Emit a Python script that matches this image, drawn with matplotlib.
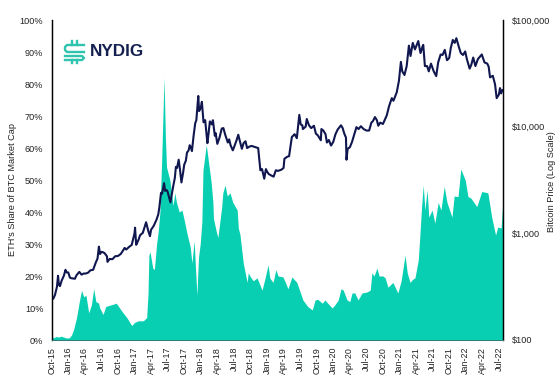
import matplotlib
matplotlib.use('Agg')
import matplotlib.pyplot as plt
from matplotlib.lines import Line2D
from matplotlib.ticker import FixedLocator, NullLocator

plt.rcParams['font.family'] = ['Liberation Sans', 'DejaVu Sans']

# months counted from Oct-15
eth_months = [0, 0.4, 0.8, 1.3, 1.7, 2.2, 2.7, 3.2, 3.6, 4, 4.5, 5, 5.4, 5.8, 6.2, 6.7, 7.2, 7.6, 8, 8.5, 8.7, 9.3, 9.8,
              10.8, 11.7, 12.7, 13.6, 14.5, 15, 15.7, 16.6, 17.2, 17.45, 17.6, 17.8, 18.3, 18.6, 19, 19.3, 19.6, 19.9,
              20.35, 20.6, 20.8, 21.4, 22, 22.3, 22.6, 23.1, 23.6, 24, 24.5, 25.1, 25.4, 25.8, 26, 26.3, 26.6, 26.9,
              27.2, 27.4, 28, 28.3, 28.9, 29.2, 29.3, 29.8, 30.1, 30.5, 30.8, 31, 31.4, 31.8, 32.3, 32.8, 33.6, 33.8,
              34.1, 34.7, 35.4, 35.6, 35.9, 36.5, 37.2, 38.1, 38.6, 39.2, 39.5, 40.1, 40.6, 41, 41.9, 42.8, 43.5, 44.4,
              45, 45.5, 46.4, 47.2, 47.7, 48.2, 49, 49.5, 50, 50.8, 51.3, 51.9, 52.4, 52.8, 53.5, 54, 54.4, 54.9, 55.5,
              56.2, 57.1, 57.7, 58, 58.4, 58.9, 59.3, 60, 60.4, 60.9, 61.8, 62.7, 63.3, 64, 64.4, 64.9, 65.4, 65.8,
              66.4, 66.7, 67, 67.3, 67.6, 68, 68.3, 68.9, 69.4, 70, 70.5, 71.1, 71.6, 72.5, 72.9, 73.6, 74.1, 74.9,
              75.4, 75.9, 77, 77.9, 79, 79.7, 80.4, 80.8, 81.4, 81.65]
eth_share = [0.8, 0.7, 1.1, 0.9, 1.2, 0.9, 0.6, 0.7, 1.6, 3.5, 7, 12, 15.5, 13.5, 14, 8.5, 11, 16, 12, 11.5, 10, 8, 10.5,
             11, 11.5, 9, 7, 4.5, 5.5, 6, 6, 7, 14.6, 26.5, 27.6, 22.5, 22, 30, 34, 40, 55,
             82, 63, 54, 50, 42, 46, 43, 40, 40.6, 37.5, 33.3, 29, 24, 31, 24, 14, 26, 30,
             37, 53, 61, 57, 49, 43, 38, 34, 32, 37.5, 41.7, 46, 48.4, 45, 46, 43, 40.6, 35,
             33, 24, 18, 21, 20, 18.5, 19.4, 15.6, 19, 23.5, 19.4, 18, 22, 20, 19.7, 16, 19.7, 18,
             15, 12.5, 10.4, 9.4, 12.5, 12.7, 11.5, 12.5, 11.5, 10, 11, 12.5, 16, 15.6, 12.5, 12, 14.7, 14.7, 12.5,
             14.7, 15, 15.6, 21, 20, 22.5, 20, 20, 19.4, 16.5, 18, 14.7, 18.5, 26.5, 21, 18, 19, 19.4,
             25, 33, 41.7, 48.4, 40.6, 47, 38.4, 40.6, 36.5, 43, 40.6, 48, 43, 38.4, 45, 44.8, 53.4, 50,
             44.8, 44.4, 41.7, 46.4, 46, 38.4, 32.8, 35.3, 35, 41.7]

btc_months = [0, 0.3, 0.6, 0.95, 1.15, 1.3, 1.5, 1.8, 2.2, 2.5, 2.7, 3, 3.3, 3.5, 3.8, 4.2, 4.5, 5, 5.4, 5.8, 6.2, 6.6, 7,
              7.5, 8, 8.3, 8.55, 8.75, 9, 9.3, 9.6, 10, 10.1, 10.5, 11, 11.5, 12, 12.5, 13, 13.2, 13.5, 14, 14.5, 15,
              15.1, 15.3, 15.5, 15.8, 16, 16.5, 17.1, 17.5, 17.8, 18, 18.5, 19, 19.3, 19.5, 19.8, 20, 20.35, 20.55,
              20.8, 21, 21.5, 22, 22.3, 22.5, 22.7, 23, 23.25, 23.5, 23.8, 24, 24.3, 24.5, 24.8, 25, 25.25, 25.4, 25.7,
              26, 26.2, 26.55, 26.7, 27, 27.2, 27.5, 27.8, 28.2, 28.4, 28.65, 29, 29.2, 29.55, 29.7, 30, 30.4, 30.8,
              31.1, 31.4, 31.9, 32.15, 32.4, 32.8, 33, 33.5, 33.8, 34, 34.45, 34.75, 35.1, 35.4, 35.8, 36.2, 37, 37.4,
              37.5, 37.8, 38.1, 38.5, 38.8, 39, 39.3, 39.7, 40.2, 40.6, 41, 41.6, 42, 42.15, 42.6, 43, 43.5, 44, 44.4,
              44.85, 45.1, 45.4, 45.5, 46, 46.2, 46.6, 47, 47.5, 47.85, 48.2, 48.75, 48.85, 49.2, 49.6, 49.85, 50.2,
              50.6, 51, 51.4, 51.8, 52.4, 52.7, 53, 53.3, 53.4, 53.6, 54, 54.4, 54.9, 55.2, 55.6, 56, 56.5, 57, 57.5,
              57.9, 58.2, 58.55, 58.9, 59.15, 59.5, 60, 60.7, 61.1, 61.6, 61.9, 62.5, 62.9, 63.25, 63.5, 63.9, 64.3,
              64.7, 65, 65.4, 65.8, 66.4, 66.8, 67.2, 67.3, 67.6, 68, 68.3, 68.7, 69.2, 69.65, 70, 70.45, 70.8, 71.2,
              71.6, 72, 72.3, 72.65, 73, 73.3, 73.7, 74.1, 74.5, 74.9, 75.2, 75.7, 76, 76.35, 76.75, 77.2, 77.9, 78.4,
              78.9, 79.15, 79.4, 79.9, 80.3, 80.6, 81, 81.2, 81.4, 81.65]
btc_price = [238, 245, 265, 315, 400, 330, 320, 360, 400, 455, 430, 430, 385, 380, 378, 375, 405, 435, 410, 420, 420, 428, 450,
             455, 535, 580, 750, 640, 670, 665, 650, 610, 540, 575, 572, 610, 613, 640, 700, 730, 705, 745, 780, 1000,
             1130, 780, 820, 890, 960, 1010, 1270, 1050, 940, 1080, 1180, 1350, 1500, 1750, 2400, 2350, 2950, 2500,
             2550, 2450, 1950, 2750, 3300, 4200, 4100, 4900, 3900, 3000, 3700, 4400, 4800, 5700, 6000, 6700, 6300, 5900, 8200,
             10800, 11500, 19400, 14000, 15000, 17100, 11000, 11500, 7000, 8500, 11200, 10500, 11500, 8200, 8700, 6900, 7900, 9600,
             9700, 8500, 7100, 7600, 6700, 6000, 6350, 7500, 8400, 7600, 6200, 7000, 7300, 6300, 6500, 6600, 6400, 6300,
             5600, 3900, 4000, 3250, 4000, 3800, 3600, 3500, 3400, 3900, 3850, 3950, 4100, 5000, 5200, 5300, 8000, 8500, 7800,
             12900, 10500, 10300, 9500, 10000, 11800, 10300, 9700, 10200, 8600, 8300, 7450, 9500, 9200, 8500, 7100, 7500,
             6650, 7200, 8500, 9400, 10300, 9700, 8600, 7900, 4900, 6200, 6400, 7200, 8800, 9900, 9500, 10100, 9500, 9200, 9200,
             10900, 11300, 12300, 11500, 10200, 10900, 10600, 12800, 15500, 18500, 17500, 21000, 27000, 40500, 33000, 30500, 37000,
             57500, 46000, 61000, 53000, 63500, 49000, 57000, 58500, 37000, 37000, 33000, 39000, 33000, 29800, 40000, 47500, 47000, 52500,
             42000, 44000, 55000, 65000, 61000, 67500, 57000, 49000, 47000, 50700, 43000, 35000, 38000, 44500, 37000, 43000, 47500, 40000,
             39000, 36500, 29000, 30000, 25000, 18500, 20000, 23000, 20500, 22000]

x_labels = ['Oct-15', 'Jan-16', 'Apr-16', 'Jul-16', 'Oct-16', 'Jan-17', 'Apr-17', 'Jul-17', 'Oct-17', 'Jan-18',
            'Apr-18', 'Jul-18', 'Oct-18', 'Jan-19', 'Apr-19', 'Jul-19', 'Oct-19', 'Jan-20', 'Apr-20', 'Jul-20',
            'Oct-20', 'Jan-21', 'Apr-21', 'Jul-21', 'Oct-21', 'Jan-22', 'Apr-22', 'Jul-22']
x_ticks = [3 * i for i in range(len(x_labels))]
share_ticks = [0, 10, 20, 30, 40, 50, 60, 70, 80, 90, 100]
price_ticks = [100, 1000, 10000, 100000]
price_labels = ['$100', '$1,000', '$10,000', '$100,000']

TEAL = '#08cfb2'
NAVY = '#10174f'
TEXT = '#222222'
W, H = 560, 378

fig = plt.figure(figsize=(W / 100, H / 100), dpi=100)
ax = fig.add_axes([51.7 / W, 38 / H, 451.6 / W, 320 / H])
ax.fill_between(eth_months, eth_share, 0, color=TEAL, linewidth=0)
ax.set_xlim(0, 81.8)
ax.set_ylim(0, 100)
ax.set_xticks(x_ticks)
ax.set_xticklabels(x_labels, rotation=90, fontsize=6.4, color=TEXT)
ax.set_yticks(share_ticks)
ax.set_yticklabels([f'{v}%' for v in share_ticks], fontsize=6.6, color=TEXT)
ax.tick_params(length=0)
ax.tick_params(axis='x', pad=5)
ax.tick_params(axis='y', pad=6)

ax2 = ax.twinx()
ax2.plot(btc_months, btc_price, color=NAVY, linewidth=1.5, solid_joinstyle='round')
ax2.set_yscale('log')
ax2.set_ylim(100, 100000)
ax2.yaxis.set_major_locator(FixedLocator(price_ticks))
ax2.yaxis.set_minor_locator(NullLocator())
ax2.set_yticklabels(price_labels, fontsize=6.6, color=TEXT)
ax2.tick_params(length=0, pad=6)

for a in (ax, ax2):
    a.spines['top'].set_visible(False)
    a.spines['left'].set_linewidth(0.9)
    a.spines['right'].set_linewidth(0.9)
    a.spines['bottom'].set_color('#2f7f78')
    a.spines['bottom'].set_linewidth(0.7)

fig.text(13 / W, 1 - 189 / H, "ETH's Share of BTC Market Cap", rotation=90, fontsize=6.6,
         color=TEXT, ha='center', va='center')
fig.text(552 / W, 1 - 182 / H, 'Bitcoin Price (Log Scale)', rotation=90, fontsize=6.6,
         color=TEXT, ha='center', va='center')

# logo: teal mark plus the name
mark = [([84, 67, 65, 65, 67, 84], [45, 45, 47, 50, 52, 52]),
        ([65, 82, 84, 84, 82, 65], [56, 56, 58, 58, 60, 60]),
        ([72, 72], [41, 45]), ([77, 77], [41, 45]),
        ([72, 72], [60, 63]), ([77, 77], [60, 63])]
for xs, ys in mark:
    fig.add_artist(Line2D([v / W for v in xs], [1 - v / H for v in ys], color='#2fc4ad', linewidth=1.7))
fig.text(89.5 / W, 1 - 52 / H, 'NYDIG', fontsize=12.3, fontweight='bold', color='#14204f', ha='left', va='center')

fig.savefig('out.png', dpi=100)
